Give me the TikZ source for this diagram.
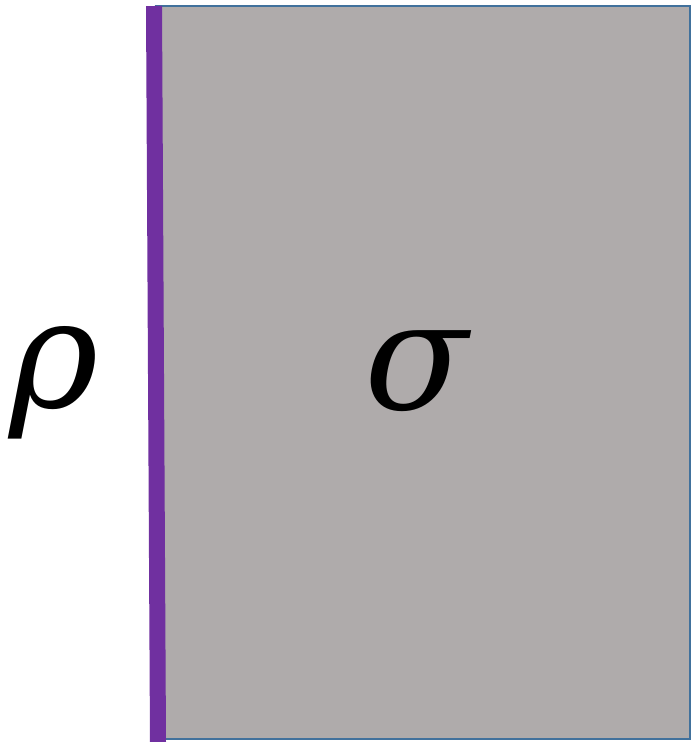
\documentclass[tikz,border=0pt]{standalone}
\usepackage{fontspec}
\newfontfamily\greekfont{DejaVu Serif}
\definecolor{cellgray}{HTML}{AFABAB}
\definecolor{cellblue}{HTML}{41719C}
\definecolor{edgepurple}{HTML}{7030A0}
\tikzset{
  greek/.style={font=\greekfont\itshape\fontsize{152}{152}\selectfont, inner sep=0pt, anchor=base}
}
\begin{document}
\begin{tikzpicture}[x=1pt, y=-1pt]
  \useasboundingbox (0,0) rectangle (692,742);
  \draw[cellblue, fill=cellgray, line width=2pt] (156,6) rectangle (690,739);
  \draw[edgepurple, line width=16pt] (154,6) -- (158,742);
  \node[greek] (rho) at (54,407) {ρ};
  \node[greek] (sigma) at (416,409) {σ};
\end{tikzpicture}
\end{document}
